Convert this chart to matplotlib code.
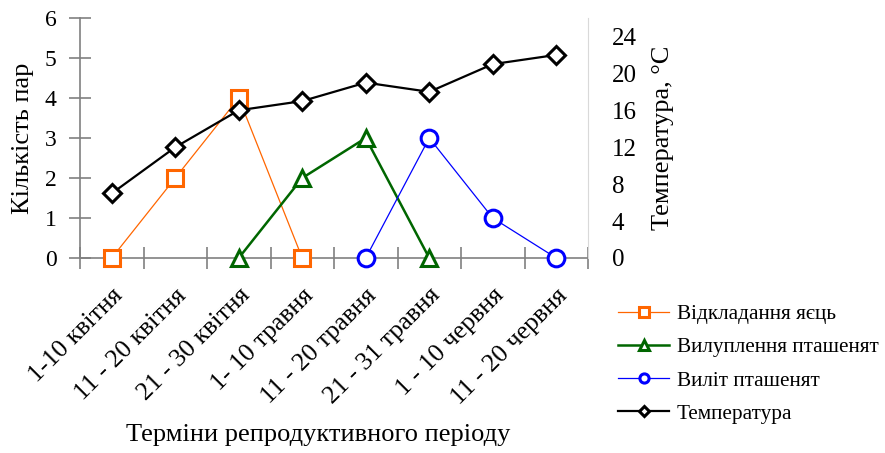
import matplotlib
matplotlib.use("Agg")
import matplotlib.pyplot as plt

periods = ["1-10 квітня", "11 - 20 квітня", "21 - 30 квітня", "1- 10 травня",
           "11 - 20 травня", "21 - 31 травня", "1 - 10 червня", "11 - 20 червня"]

# series are given as (period index, value) pairs
egg_idx = [0, 1, 2, 3]
egg_pairs = [0, 2, 4, 0]
hatch_idx = [2, 3, 4, 5]
hatch_pairs = [0, 2, 3, 0]
fledge_idx = [4, 5, 6, 7]
fledge_pairs = [0, 3, 1, 0]
temperature = [7, 12, 16, 17, 19, 18, 21, 22]

plt.rcParams['font.family'] = ['Liberation Serif', 'DejaVu Serif']

fig = plt.figure(figsize=(8.85, 4.53), dpi=100)
ax = fig.add_axes([80/885, 1-258/453, 508/885, 240/453])
ax2 = ax.twinx()

grey = '#808080'
l1, = ax.plot(egg_idx, egg_pairs, color='#FF6600', lw=0.9, marker='s', ms=12,
              mfc='white', mec='#FF6600', mew=2.2, clip_on=False, zorder=3)
l2, = ax.plot(hatch_idx, hatch_pairs, color='#006600', lw=1.8, marker='^', ms=12,
              mfc='white', mec='#006600', mew=2.2, clip_on=False, zorder=3)
l3, = ax.plot(fledge_idx, fledge_pairs, color='#0000FF', lw=0.9, marker='o', ms=12,
              mfc='white', mec='#0000FF', mew=2.2, clip_on=False, zorder=3)
l4, = ax2.plot(range(len(temperature)), temperature, color='black', lw=1.6, marker='D',
               ms=9, mfc='white', mec='black', mew=2.2, clip_on=False, zorder=3)

ax.set_xlim(-0.5, len(periods) - 0.5)
ax.set_ylim(0, 6)
ax2.set_ylim(0, 26)

ax.set_yticks(range(0, 7))
ax2.set_yticks(range(0, 25, 4))
ax.set_xticks([i - 0.5 for i in range(len(periods) + 1)], minor=False)
ax.set_xticklabels([])
ax.set_xticks(range(len(periods)), minor=True)
ax.set_xticklabels(periods, minor=True, rotation=45, ha='right',
                   rotation_mode='anchor', fontsize=18.5)
ax.tick_params(axis='x', which='minor', length=0, pad=19)
ax.tick_params(axis='x', which='major', direction='inout', length=16, color=grey, width=1.2)
ax.tick_params(axis='y', direction='inout', length=16, color=grey, width=1.2,
               labelsize=17, pad=9)
ax2.tick_params(axis='y', length=0, labelsize=18, pad=17)

for s in ['top', 'right']:
    ax.spines[s].set_visible(False)
ax.spines['left'].set_color(grey)
ax.spines['bottom'].set_color(grey)
ax.spines['left'].set_linewidth(1.2)
ax.spines['bottom'].set_linewidth(1.2)
for s in ['top', 'left', 'bottom']:
    ax2.spines[s].set_visible(False)
ax2.spines['right'].set_color('#d9d9d9')

fig.text(23/885, 1-138/453, 'Кількість пар', fontsize=19, rotation=90,
         ha='center', va='center')
fig.text(663/885, 1-138/453, 'Температура, °C', fontsize=19, rotation=90,
         ha='center', va='center')
fig.text(318/885, 1-435/453, 'Терміни репродуктивного періоду', fontsize=19,
         ha='center', va='center')

h = [l1, l2, l3, l4]
labels = ['Відкладання яєць', 'Вилуплення пташенят', 'Виліт пташенят', 'Температура']
leg = fig.legend(h, labels, loc='upper left', bbox_to_anchor=(599/885, 1-285/453),
                 frameon=False, fontsize=15.3, handlelength=2.4, handletextpad=0.35,
                 labelspacing=0.63, markerscale=0.55)

fig.savefig('out.png', dpi=100)
